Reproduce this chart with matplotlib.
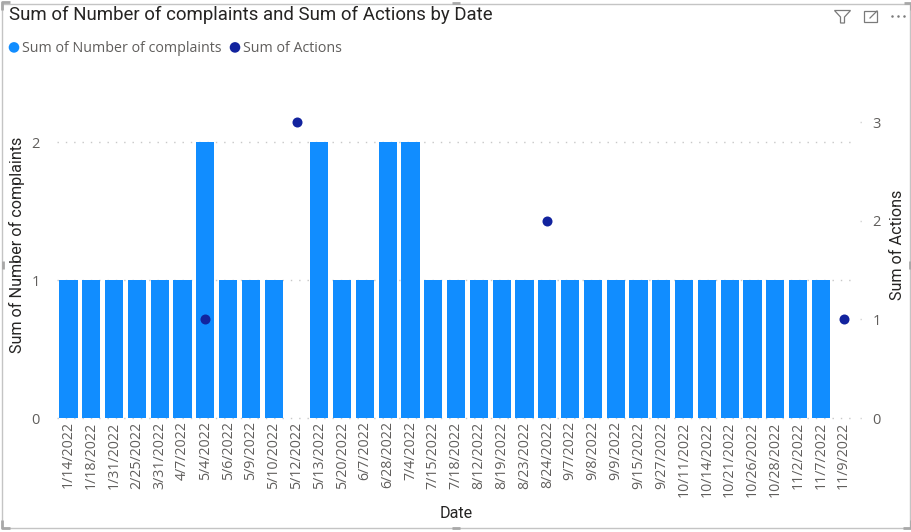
import matplotlib
matplotlib.use("Agg")
import matplotlib.pyplot as plt
from matplotlib.patches import Rectangle, Polygon, Circle

dates = ["1/14/2022","1/18/2022","1/31/2022","2/25/2022","3/31/2022","4/7/2022","5/4/2022","5/6/2022","5/9/2022","5/10/2022","5/12/2022","5/13/2022","5/20/2022","6/7/2022","6/28/2022","7/4/2022","7/15/2022","7/18/2022","8/12/2022","8/19/2022","8/23/2022","8/24/2022","9/7/2022","9/8/2022","9/9/2022","9/15/2022","9/27/2022","10/11/2022","10/14/2022","10/21/2022","10/26/2022","10/28/2022","11/2/2022","11/7/2022","11/9/2022"]
complaints = [1,1,1,1,1,1,2,1,1,1,0,2,1,1,2,2,1,1,1,1,1,1,1,1,1,1,1,1,1,1,1,1,1,1,0]
action_dates = ["5/4/2022","5/12/2022","8/24/2022","11/9/2022"]
actions = [1,3,2,1]
y_ticks_left = [0,1,2]
y_ticks_right = [0,1,2,3]

W,H = 912,532
plt.rcParams['font.family'] = ['Open Sans','DejaVu Sans']
fig = plt.figure(figsize=(W/100,H/100),dpi=100)
L,R,T,B = 57,857,87,418
ax = fig.add_axes([L/W,1-B/H,(R-L)/W,(B-T)/H])
x = list(range(len(dates)))
x0 = (57-68.5)/22.8
x1 = x0+(R-L)/22.8
ax.set_xlim(x0,x1)
ax.set_ylim(0,2*(418-87)/(418-142))
ax.bar(x,complaints,width=0.8,color="#118DFF",zorder=2)
for v in y_ticks_left:
    ax.plot([x0,x1],[v,v],color="#c8c8c8",lw=1,ls=(0,(1,5)),zorder=1,clip_on=False)
ax.set_yticks(y_ticks_left)
ax.set_xticks(x)
ax.set_xticklabels(dates,rotation=90,fontsize=10.2,color="#605E5C")
ax.tick_params(axis='both',length=0)
ax.tick_params(axis='x',pad=2.5)
ax.tick_params(axis='y',labelsize=10.5,labelcolor="#605E5C",pad=12.5)
for s in ax.spines.values(): s.set_visible(False)

ax2 = ax.twinx()
ax2.set_ylim(0,3*(418-87)/(418-122))
ax2.set_yticks(y_ticks_right)
ax2.tick_params(axis='y',length=0,labelsize=10.5,labelcolor="#605E5C",pad=11)
for s in ax2.spines.values(): s.set_visible(False)
ax2.scatter([dates.index(d) for d in action_dates],actions,s=52,color="#12239E",linewidths=0,zorder=5,clip_on=False)
for v in y_ticks_right:
    ax2.plot([1.004,1.009],[v,v],transform=ax2.get_yaxis_transform(),color="#d4d4d4",lw=1,ls=(0,(1,3)),clip_on=False)

title_font = ['Roboto','DejaVu Sans']
fig.text(17/W,1-245/H,"Sum of Number of complaints",rotation=90,ha='center',va='center',fontsize=11.6,color="#252423",family=title_font)
fig.text(898/W,1-245/H,"Sum of Actions",rotation=90,ha='center',va='center',fontsize=11.6,color="#252423",family=title_font)
fig.text(456/W,1-514/H,"Date",ha='center',va='center',fontsize=11.6,color="#252423",family=title_font)
fig.text(9/W,1-15/H,"Sum of Number of complaints and Sum of Actions by Date",ha='left',va='center',fontsize=13.4,color="#252423",family=title_font)

ov = fig.add_axes([0,0,1,1],facecolor='none')
ov.set_xlim(0,W); ov.set_ylim(H,0); ov.axis('off')
ov.add_patch(Circle((14,47.4),5.3,color="#118DFF",lw=0))
ov.add_patch(Circle((235,47.4),5.3,color="#12239E",lw=0))
ov.text(22,48,"Sum of Number of complaints",va='center',fontsize=10.25,color="#605E5C")
ov.text(243,48,"Sum of Actions",va='center',fontsize=10.25,color="#605E5C")
ov.add_patch(Rectangle((2.5,3.5),908,524.5,fill=False,ec="#c4c4c4",lw=1))
# selection handles of the visual frame
hc = "#a8a8a8"
for xs,ys in [([2,2,10],[10,2,2]),([904,911,911],[3,3,10]),([2,2,10],[520,528,528]),([903,911,911],[528,528,520])]:
    ov.plot(xs,ys,color=hc,lw=2,solid_capstyle='butt')
for xs,ys in [([3,3],[261,269]),([910,910],[261,269]),([452,460],[3,3]),([452,460],[528,528])]:
    ov.plot(xs,ys,color=hc,lw=2,solid_capstyle='butt')
ic = "#7a7a7a"
ov.add_patch(Polygon([(834.5,10.5),(850.5,10.5),(844.5,17),(844.5,23),(840.5,23),(840.5,17)],closed=True,fill=False,ec=ic,lw=0.9))
ov.add_patch(Rectangle((864,11),13,11,fill=False,ec=ic,lw=0.9))
ov.plot([870,877],[18,11],color=ic,lw=0.9)
ov.plot([892,898,904],[15.7,15.7,15.7],ls='none',marker='o',ms=1.8,mew=0,color=ic)
fig.savefig("out.png",dpi=100)
